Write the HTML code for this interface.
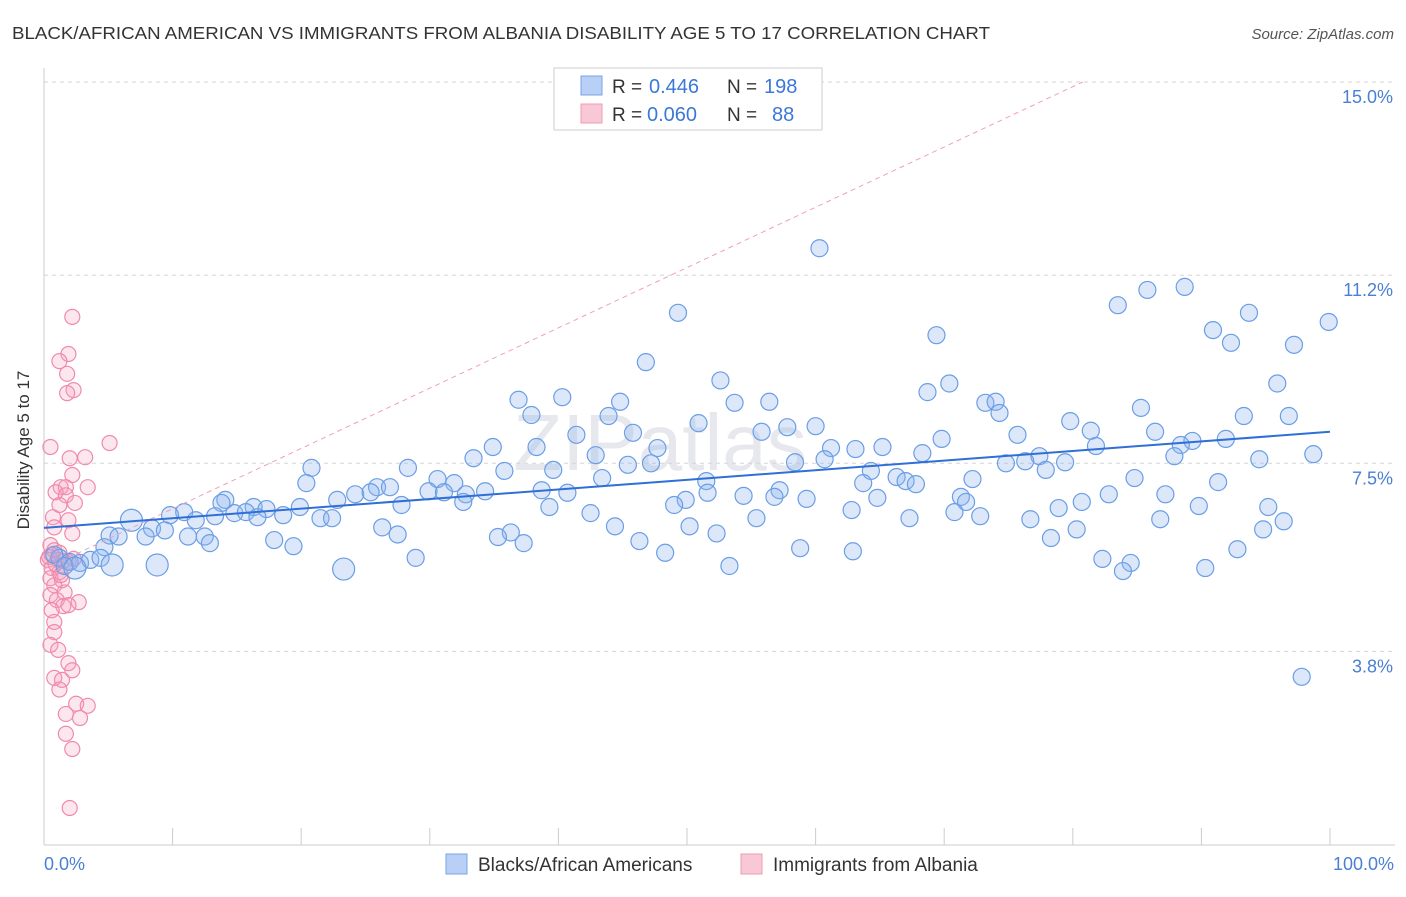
<!DOCTYPE html>
<html><head><meta charset="utf-8"><style>
body{margin:0;background:#fff;font-family:"Liberation Sans",sans-serif;}
svg text{font-family:"Liberation Sans",sans-serif;}
</style></head><body>
<svg width="1406" height="892" viewBox="0 0 1406 892">
<text x="12" y="39" font-size="17.5" fill="#333" textLength="978" lengthAdjust="spacingAndGlyphs">BLACK/AFRICAN AMERICAN VS IMMIGRANTS FROM ALBANIA DISABILITY AGE 5 TO 17 CORRELATION CHART</text>
<text x="1394" y="39" font-size="15" fill="#555" text-anchor="end" font-style="italic">Source: ZipAtlas.com</text>
<text x="660" y="470" font-size="80" fill="#e6e8ee" text-anchor="middle" font-family="Liberation Serif">ZIPatlas</text>
<g id="grid"></g>
<g id="axes"></g>
<g id="pinkpts"></g>
<g id="bluepts"></g>
<g id="lines"></g>
<text x="34" y="455" font-size="17" fill="#333" text-anchor="middle" transform="rotate(-90 29 455)">Disability Age 5 to 17</text>
<text x="44" y="870" font-size="18" fill="#4a7fd4">0.0%</text>
<text x="1394" y="870" font-size="18" fill="#4a7fd4" text-anchor="end">100.0%</text>
<g>
<rect x="554" y="68" width="268" height="62" fill="#fff" stroke="#ccc"/>
<rect x="581" y="76" width="21" height="19" fill="#b8d0f5" stroke="#7ba3e8"/>
<rect x="581" y="104" width="21" height="19" fill="#f9c8d7" stroke="#f09ab4"/>
<text x="612" y="93" font-size="19" fill="#333">R =</text>
<text x="649" y="93" font-size="20" fill="#3b78d8">0.446</text>
<text x="727" y="93" font-size="19" fill="#333">N =</text>
<text x="764" y="93" font-size="20" fill="#3b78d8">198</text>
<text x="612" y="121" font-size="19" fill="#333">R =</text>
<text x="647" y="121" font-size="20" fill="#3b78d8">0.060</text>
<text x="727" y="121" font-size="19" fill="#333">N =</text>
<text x="772" y="121" font-size="20" fill="#3b78d8">88</text>
</g>
<g>
<rect x="446" y="854" width="21" height="20" fill="#b8d0f5" stroke="#7ba3e8"/>
<text x="478" y="871" font-size="19" fill="#333">Blacks/African Americans</text>
<rect x="741" y="854" width="21" height="20" fill="#f9c8d7" stroke="#f09ab4"/>
<text x="773" y="871" font-size="19" fill="#333">Immigrants from Albania</text>
</g>
</svg>
<script>
const yTicks=[15.0,11.2,7.5,3.8];
const yTickLabels=["15.0%","11.2%","7.5%","3.8%"];
const xTicks=[0,10,20,30,40,50,60,70,80,90,100];
const blueX=[60.3,49.3,83.5,85.8,88.7,93.7,99.9,90.9,92.3,97.2,69.4,46.8,95.9,70.4,52.6,68.7,40.3,36.9,44.8,53.7,56.4,73.2,74.0,85.3,74.3,43.9,37.9,93.3,96.8,79.8,50.9,60.0,57.8,81.4,41.4,45.8,55.8,86.4,75.7,91.9,69.8,89.3,88.4,34.9,38.3,47.7,61.2,63.1,65.2,81.8,98.7,87.9,68.3,77.4,33.4,42.9,60.7,94.5,74.8,76.3,79.4,58.4,28.3,20.8,39.6,35.8,45.4,47.2,64.3,77.9,30.6,43.4,51.5,66.3,67.0,72.2,84.8,91.3,20.4,25.9,26.9,31.9,63.7,67.8,29.9,31.1,32.8,34.3,38.7,40.7,24.2,25.4,51.6,57.2,82.8,87.2,32.6,14.1,13.8,16.3,22.8,27.8,39.3,49.9,54.4,56.8,59.3,64.8,71.3,71.7,80.7,49.0,19.9,89.8,95.2,10.9,9.8,13.3,14.8,15.7,17.3,18.6,16.6,21.5,22.4,42.5,55.4,62.8,67.3,70.8,72.8,78.9,86.8,76.7,96.4,6.8,11.8,26.3,50.2,44.4,80.3,94.8,8.4,9.4,5.1,5.8,7.9,11.2,12.5,27.5,36.3,52.3,35.3,17.9,12.9,46.3,78.3,37.3,19.4,4.7,58.8,62.9,92.8,48.3,28.9,82.3,84.5,83.9,53.3,90.3,8.8,23.3,97.8,1.2,2.0,2.8,3.6,4.4,5.3,0.8,1.6,2.4];
const blueY=[11.73,10.46,10.61,10.91,10.97,10.46,10.28,10.12,9.87,9.83,10.02,9.49,9.07,9.07,9.13,8.90,8.80,8.75,8.71,8.69,8.71,8.69,8.71,8.59,8.49,8.43,8.45,8.43,8.43,8.33,8.29,8.23,8.21,8.14,8.06,8.10,8.12,8.12,8.06,7.98,7.98,7.94,7.86,7.82,7.82,7.80,7.80,7.78,7.82,7.84,7.68,7.64,7.70,7.64,7.60,7.66,7.58,7.58,7.50,7.54,7.52,7.52,7.41,7.41,7.37,7.35,7.47,7.50,7.35,7.37,7.19,7.21,7.15,7.23,7.15,7.19,7.21,7.13,7.11,7.03,7.03,7.11,7.11,7.09,6.95,6.93,6.89,6.95,6.97,6.92,6.89,6.93,6.92,6.97,6.89,6.89,6.74,6.78,6.72,6.64,6.78,6.68,6.64,6.78,6.86,6.84,6.80,6.82,6.84,6.74,6.74,6.68,6.64,6.66,6.64,6.54,6.48,6.46,6.52,6.54,6.60,6.48,6.44,6.42,6.42,6.52,6.42,6.58,6.42,6.54,6.46,6.62,6.40,6.40,6.36,6.38,6.38,6.24,6.26,6.26,6.20,6.20,6.22,6.18,6.08,6.06,6.06,6.06,6.06,6.10,6.14,6.12,6.05,5.99,5.93,5.97,6.03,5.93,5.87,5.85,5.83,5.77,5.81,5.74,5.64,5.62,5.54,5.38,5.48,5.44,5.50,5.42,3.30,5.64,5.56,5.54,5.60,5.64,5.50,5.70,5.48,5.44];
const blueBigX=[6.8,8.8,23.3,5.3,2.4];
const pinkX=[2.2,1.9,1.2,1.8,2.3,1.8,5.1,0.5,2.0,3.2,2.2,1.3,1.7,0.9,3.4,1.7,1.2,2.4,0.7,1.9,0.8,2.2,0.5,0.8,1.2,1.1,0.3,1.9,0.6,1.2,0.5,1.4,0.8,1.6,0.5,1.0,2.7,1.5,1.9,0.6,0.8,0.8,0.5,1.1,1.9,2.2,0.8,1.4,1.2,2.5,3.4,1.7,2.8,1.7,2.2,2.0,0.4,0.9,1.5,2.3,0.6,1.3];
const pinkY=[10.38,9.65,9.51,9.26,8.94,8.88,7.90,7.82,7.60,7.62,7.27,7.03,7.03,6.93,7.03,6.87,6.68,6.72,6.44,6.38,6.24,6.12,5.89,5.79,5.74,5.60,5.60,5.56,5.44,5.36,5.24,5.20,5.10,4.96,4.91,4.81,4.77,4.69,4.71,4.61,4.38,4.18,3.93,3.83,3.57,3.43,3.28,3.24,3.05,2.77,2.73,2.57,2.49,2.18,1.88,0.72,5.66,5.52,5.58,5.62,5.70,5.30];
const blueTrend=[6.23,8.12];
const pinkTrend=[5.42,0.1186];
const NS="http://www.w3.org/2000/svg";
const X0=44,X1=1330,YT=82,YB=844.6;
function sx(v){return X0+(X1-X0)*v/100;}
function sy(v){return YB-(YB-YT)*v/15;}
function mk(tag,attrs,parent){const e=document.createElementNS(NS,tag);for(const k in attrs)e.setAttribute(k,attrs[k]);parent.appendChild(e);return e;}
const grid=document.getElementById('grid');
yTicks.forEach((t,i)=>{
 const l=mk('line',{x1:44,x2:1395,y1:sy(t),y2:sy(t),stroke:'#d6d6d6','stroke-dasharray':'4,4'},grid);
 
 
 const tx=mk('text',{x:1393,y:sy(t)+21,'font-size':18,fill:'#4a7fd4','text-anchor':'end'},grid);
 tx.textContent=yTickLabels[i];
 
 
});
const axes=document.getElementById('axes');
const ya=mk('line',{x1:44,x2:44,y1:68,y2:845,stroke:'#ccc'},axes);


const xa=mk('line',{x1:44,x2:1395,y1:845,y2:845,stroke:'#ccc'},axes);


xTicks.forEach(t=>{
 const l=mk('line',{x1:sx(t),x2:sx(t),y1:828,y2:845,stroke:'#ccc'},axes);
 
 
});
const pg=document.getElementById('pinkpts');
pinkX.forEach((x,i)=>{
 const c=mk('circle',{cx:sx(x),cy:sy(pinkY[i]),r:7.5,fill:'rgba(246,160,190,0.25)',stroke:'#f08aaa','stroke-width':1.2},pg);
 
 
});
const bg=document.getElementById('bluepts');
blueX.forEach((x,i)=>{
 const c=mk('circle',{cx:sx(x),cy:sy(blueY[i]),r:blueBigX.includes(x)?11:8.5,fill:'rgba(140,180,240,0.3)',stroke:'#6a9ee6','stroke-width':1.2},bg);
 
 
});
const lg=document.getElementById('lines');
const pEnd=(15-pinkTrend[0])/pinkTrend[1];
const pl=mk('line',{x1:sx(0),y1:sy(pinkTrend[0]),x2:sx(pEnd),y2:sy(15),stroke:'#f0a0b8','stroke-width':1,'stroke-dasharray':'5,4'},lg);


const bl=mk('line',{x1:sx(0),y1:sy(blueTrend[0]),x2:sx(100),y2:sy(blueTrend[1]),stroke:'#2f6fd6','stroke-width':2},lg);


</script>
</body></html>
